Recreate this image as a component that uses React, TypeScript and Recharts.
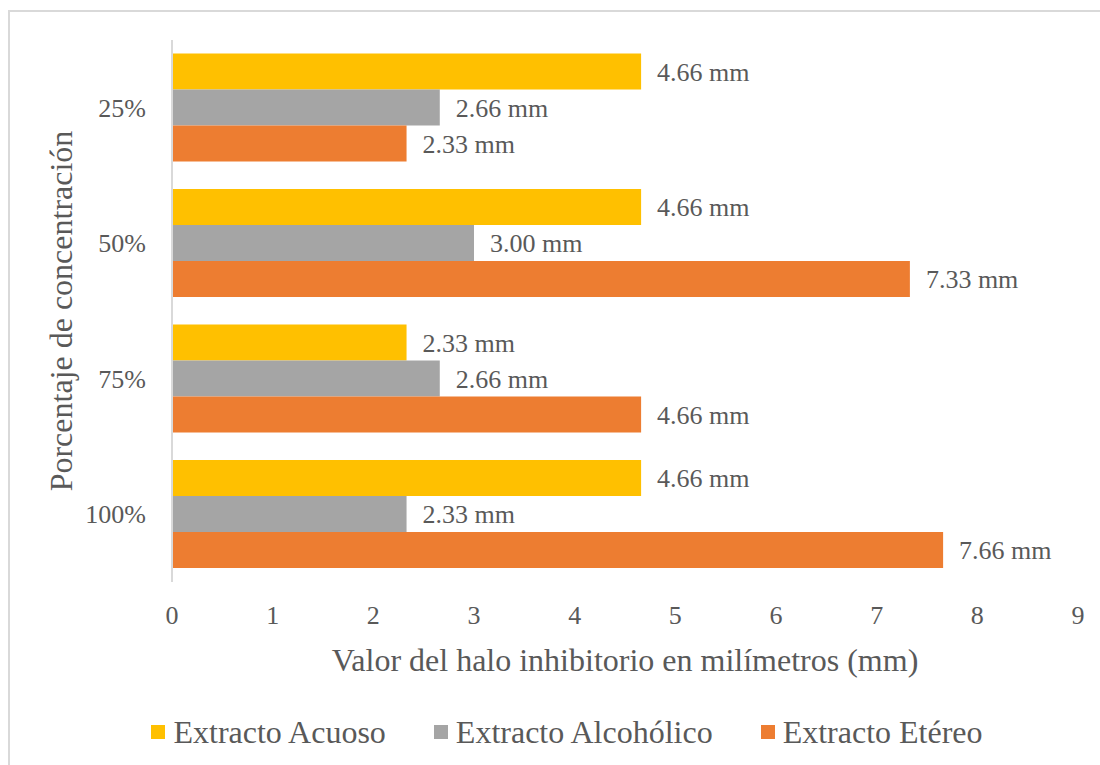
import React from "react";
import { BarChart, Bar, XAxis, YAxis, Legend, LabelList } from "recharts";

const categories = ["25%", "50%", "75%", "100%"];
const acuoso = [4.66, 4.66, 2.33, 4.66];
const alcoholico = [2.66, 3.0, 2.66, 2.33];
const etereo = [2.33, 7.33, 4.66, 7.66];
const xTicks = [0, 1, 2, 3, 4, 5, 6, 7, 8, 9];

const seriesNames = ["Extracto Acuoso", "Extracto Alcohólico", "Extracto Etéreo"];
const seriesColors = ["#FFC000", "#A5A5A5", "#ED7D31"];

const data = categories.map((c, i) => ({
  cat: c,
  acuoso: acuoso[i],
  alcoholico: alcoholico[i],
  etereo: etereo[i],
}));

const FONT = '"Liberation Serif", "Times New Roman", serif';
const TEXT = "#595959";

const fmt = (v: any) => `${Number(v).toFixed(2)} mm`;

const LegendContent = () => (
  <div
    style={{
      display: "flex",
      justifyContent: "center",
      alignItems: "center",
      height: 40,
      paddingLeft: 34,
      fontFamily: FONT,
      fontSize: 32,
      color: TEXT,
    }}
  >
    {seriesNames.map((n, i) => (
      <div key={n} style={{ display: "flex", alignItems: "center", marginRight: i < 2 ? 48 : 0 }}>
        <div style={{ width: 14, height: 14, background: seriesColors[i], marginRight: 8 }} />
        <span>{n}</span>
      </div>
    ))}
  </div>
);

export default function App() {
  return (
    <div style={{ position: "absolute", left: 0, top: 0, width: 1100, height: 765, background: "#fff", overflow: "hidden" }}>
      <div
        style={{
          position: "absolute",
          left: 8,
          top: 10,
          width: 1200,
          height: 900,
          borderTop: "2px solid #D9D9D9",
          borderLeft: "2px solid #D9D9D9",
        }}
      />
      <BarChart
        width={1100}
        height={765}
        data={data}
        layout="vertical"
        margin={{ top: 40, right: 22, bottom: 13, left: 0 }}
        barCategoryGap="10%"
        barGap={0}
        style={{ fontFamily: FONT }}
      >
        <XAxis
          type="number"
          domain={[0, 9]}
          ticks={xTicks}
          axisLine={false}
          tickLine={false}
          tickSize={0}
          tickMargin={24}
          height={130}
          tick={{ fill: TEXT, fontSize: 26, fontFamily: FONT }}
          label={{
            value: "Valor del halo inhibitorio en milímetros (mm)",
            position: "insideBottom",
            offset: 41,
            fill: TEXT,
            fontSize: 32,
            fontFamily: FONT,
          }}
        />
        <YAxis
          type="category"
          dataKey="cat"
          width={172}
          axisLine={{ stroke: "#D9D9D9", strokeWidth: 2 }}
          tickLine={false}
          tickSize={0}
          tickMargin={26}
          tick={{ fill: TEXT, fontSize: 26, fontFamily: FONT }}
          label={{
            value: "Porcentaje de concentración",
            angle: -90,
            position: "insideLeft",
            offset: 61,
            fill: TEXT,
            fontSize: 32,
            fontFamily: FONT,
            style: { textAnchor: "middle" },
          }}
        />
        <Legend verticalAlign="bottom" content={<LegendContent />} wrapperStyle={{ left: 0, width: 1100 }} />
        <Bar dataKey="acuoso" name={seriesNames[0]} fill={seriesColors[0]} isAnimationActive={false}>
          <LabelList dataKey="acuoso" position="right" offset={16} formatter={fmt} fill={TEXT} fontSize={26} fontFamily={FONT} />
        </Bar>
        <Bar dataKey="alcoholico" name={seriesNames[1]} fill={seriesColors[1]} isAnimationActive={false}>
          <LabelList dataKey="alcoholico" position="right" offset={16} formatter={fmt} fill={TEXT} fontSize={26} fontFamily={FONT} />
        </Bar>
        <Bar dataKey="etereo" name={seriesNames[2]} fill={seriesColors[2]} isAnimationActive={false}>
          <LabelList dataKey="etereo" position="right" offset={16} formatter={fmt} fill={TEXT} fontSize={26} fontFamily={FONT} />
        </Bar>
      </BarChart>
    </div>
  );
}
